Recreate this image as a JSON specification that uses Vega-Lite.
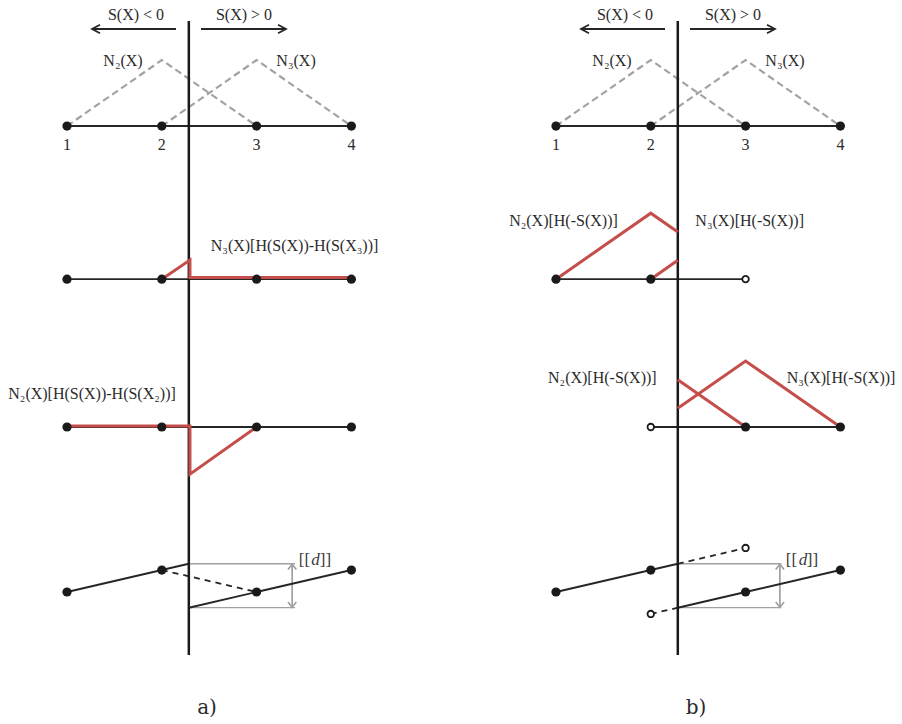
{
  "$schema": "https://vega.github.io/schema/vega-lite/v6.json",
  "width": 902,
  "height": 724,
  "padding": 0,
  "autosize": {"type": "fit", "contains": "padding"},
  "config": {"view": {"stroke": null}},
  "datasets": {
    "guides": [
      {"id": "g1", "o": 1, "x": 1, "y": 9.06}, {"id": "g1", "o": 2, "x": 2, "y": 10.06}, {"id": "g1", "o": 3, "x": 3, "y": 9.06},
      {"id": "g2", "o": 1, "x": 2, "y": 9.06}, {"id": "g2", "o": 2, "x": 3, "y": 10.06}, {"id": "g2", "o": 3, "x": 4, "y": 9.06},
      {"id": "g3", "o": 1, "x": 6.158, "y": 9.06}, {"id": "g3", "o": 2, "x": 7.158, "y": 10.06}, {"id": "g3", "o": 3, "x": 8.158, "y": 9.06},
      {"id": "g4", "o": 1, "x": 7.158, "y": 9.06}, {"id": "g4", "o": 2, "x": 8.158, "y": 10.06}, {"id": "g4", "o": 3, "x": 9.158, "y": 9.06}
    ],
    "black": [
      {"id": "k1", "o": 1, "x": 1, "y": 9.06}, {"id": "k1", "o": 2, "x": 4, "y": 9.06},
      {"id": "k2", "o": 1, "x": 1, "y": 6.74}, {"id": "k2", "o": 2, "x": 4, "y": 6.74},
      {"id": "k3", "o": 1, "x": 1, "y": 4.5}, {"id": "k3", "o": 2, "x": 4, "y": 4.5},
      {"id": "k4", "o": 1, "x": 1, "y": 2.0}, {"id": "k4", "o": 2, "x": 2, "y": 2.333}, {"id": "k4", "o": 3, "x": 2.285, "y": 2.428},
      {"id": "k5", "o": 1, "x": 2.285, "y": 1.762}, {"id": "k5", "o": 2, "x": 3, "y": 2.0}, {"id": "k5", "o": 3, "x": 4, "y": 2.333},
      {"id": "k6", "o": 1, "x": 1.264, "y": 10.53}, {"id": "k6", "o": 2, "x": 2.15, "y": 10.53},
      {"id": "k7", "o": 1, "x": 2.414, "y": 10.53}, {"id": "k7", "o": 2, "x": 3.31, "y": 10.53},
      {"id": "k8", "o": 1, "x": 6.158, "y": 9.06}, {"id": "k8", "o": 2, "x": 9.158, "y": 9.06},
      {"id": "k9", "o": 1, "x": 6.158, "y": 6.74}, {"id": "k9", "o": 2, "x": 8.158, "y": 6.74},
      {"id": "k10", "o": 1, "x": 7.158, "y": 4.5}, {"id": "k10", "o": 2, "x": 9.158, "y": 4.5},
      {"id": "k11", "o": 1, "x": 6.158, "y": 2.0}, {"id": "k11", "o": 2, "x": 7.158, "y": 2.333}, {"id": "k11", "o": 3, "x": 7.443, "y": 2.428},
      {"id": "k12", "o": 1, "x": 7.443, "y": 1.762}, {"id": "k12", "o": 2, "x": 8.158, "y": 2.0}, {"id": "k12", "o": 3, "x": 9.158, "y": 2.333},
      {"id": "k13", "o": 1, "x": 6.422, "y": 10.53}, {"id": "k13", "o": 2, "x": 7.308, "y": 10.53},
      {"id": "k14", "o": 1, "x": 7.572, "y": 10.53}, {"id": "k14", "o": 2, "x": 8.468, "y": 10.53}
    ],
    "vlines": [
      {"id": "v1", "o": 1, "x": 2.285, "y": 1.045}, {"id": "v1", "o": 2, "x": 2.285, "y": 10.652},
      {"id": "v2", "o": 1, "x": 7.443, "y": 1.045}, {"id": "v2", "o": 2, "x": 7.443, "y": 10.652}
    ],
    "blackDash": [
      {"id": "d1", "o": 1, "x": 2, "y": 2.333}, {"id": "d1", "o": 2, "x": 3, "y": 2.0},
      {"id": "d2", "o": 1, "x": 7.443, "y": 2.428}, {"id": "d2", "o": 2, "x": 8.158, "y": 2.667},
      {"id": "d3", "o": 1, "x": 7.158, "y": 1.667}, {"id": "d3", "o": 2, "x": 7.443, "y": 1.762}
    ],
    "red": [
      {"id": "r1", "o": 1, "x": 2, "y": 6.74}, {"id": "r1", "o": 2, "x": 2.297, "y": 7.03}, {"id": "r1", "o": 3, "x": 2.297, "y": 6.765}, {"id": "r1", "o": 4, "x": 4, "y": 6.765},
      {"id": "r2", "o": 1, "x": 1, "y": 4.515}, {"id": "r2", "o": 2, "x": 2.297, "y": 4.515}, {"id": "r2", "o": 3, "x": 2.297, "y": 3.785}, {"id": "r2", "o": 4, "x": 3, "y": 4.5},
      {"id": "r3", "o": 1, "x": 6.158, "y": 6.74}, {"id": "r3", "o": 2, "x": 7.158, "y": 7.74}, {"id": "r3", "o": 3, "x": 7.443, "y": 7.455},
      {"id": "r4", "o": 1, "x": 7.158, "y": 6.74}, {"id": "r4", "o": 2, "x": 7.443, "y": 7.025},
      {"id": "r5", "o": 1, "x": 7.443, "y": 5.215}, {"id": "r5", "o": 2, "x": 8.158, "y": 4.5},
      {"id": "r6", "o": 1, "x": 7.443, "y": 4.785}, {"id": "r6", "o": 2, "x": 8.158, "y": 5.5}, {"id": "r6", "o": 3, "x": 9.158, "y": 4.5}
    ],
    "grayThin": [
      {"id": "t1", "o": 1, "x": 2.285, "y": 2.428}, {"id": "t1", "o": 2, "x": 3.405, "y": 2.428},
      {"id": "t2", "o": 1, "x": 2.285, "y": 1.762}, {"id": "t2", "o": 2, "x": 3.405, "y": 1.762},
      {"id": "t4", "o": 1, "x": 7.443, "y": 2.428}, {"id": "t4", "o": 2, "x": 8.535, "y": 2.428},
      {"id": "t5", "o": 1, "x": 7.443, "y": 1.762}, {"id": "t5", "o": 2, "x": 8.535, "y": 1.762}
    ],
    "grayShaft": [
      {"id": "t3", "o": 1, "x": 3.375, "y": 2.418}, {"id": "t3", "o": 2, "x": 3.375, "y": 1.772},
      {"id": "t6", "o": 1, "x": 8.52, "y": 2.418}, {"id": "t6", "o": 2, "x": 8.52, "y": 1.772},
      {"id": "h1", "o": 1, "x": 3.331, "y": 2.342}, {"id": "h1", "o": 2, "x": 3.375, "y": 2.42}, {"id": "h1", "o": 3, "x": 3.419, "y": 2.342},
      {"id": "h2", "o": 1, "x": 3.331, "y": 1.848}, {"id": "h2", "o": 2, "x": 3.375, "y": 1.77}, {"id": "h2", "o": 3, "x": 3.419, "y": 1.848},
      {"id": "h3", "o": 1, "x": 8.476, "y": 2.342}, {"id": "h3", "o": 2, "x": 8.52, "y": 2.42}, {"id": "h3", "o": 3, "x": 8.564, "y": 2.342},
      {"id": "h4", "o": 1, "x": 8.476, "y": 1.848}, {"id": "h4", "o": 2, "x": 8.52, "y": 1.77}, {"id": "h4", "o": 3, "x": 8.564, "y": 1.848}
    ],
    "blackHeads": [
      {"dir": "left", "x": 1.264, "y": 10.53}, {"dir": "right", "x": 3.31, "y": 10.53},
      {"dir": "left", "x": 6.422, "y": 10.53}, {"dir": "right", "x": 8.468, "y": 10.53}
    ],
    "dots": [
      {"x": 1, "y": 9.06}, {"x": 2, "y": 9.06}, {"x": 3, "y": 9.06}, {"x": 4, "y": 9.06},
      {"x": 6.158, "y": 9.06}, {"x": 7.158, "y": 9.06}, {"x": 8.158, "y": 9.06}, {"x": 9.158, "y": 9.06},
      {"x": 1, "y": 6.74}, {"x": 2, "y": 6.74}, {"x": 3, "y": 6.74}, {"x": 4, "y": 6.74},
      {"x": 6.158, "y": 6.74}, {"x": 7.158, "y": 6.74},
      {"x": 1, "y": 4.5}, {"x": 2, "y": 4.5}, {"x": 3, "y": 4.5}, {"x": 4, "y": 4.5},
      {"x": 8.158, "y": 4.5}, {"x": 9.158, "y": 4.5},
      {"x": 1, "y": 2.0}, {"x": 2, "y": 2.333}, {"x": 3, "y": 2.0}, {"x": 4, "y": 2.333},
      {"x": 6.158, "y": 2.0}, {"x": 7.158, "y": 2.333}, {"x": 8.158, "y": 2.0}, {"x": 9.158, "y": 2.333}
    ],
    "open": [
      {"x": 8.158, "y": 6.74}, {"x": 7.158, "y": 4.5}, {"x": 8.158, "y": 2.667}, {"x": 7.158, "y": 1.667}
    ],
    "labels": [
      {"t": "S(X) < 0", "x": 1.728, "y": 10.742}, {"t": "S(X) > 0", "x": 2.867, "y": 10.742},
      {"t": "S(X) < 0", "x": 6.886, "y": 10.742}, {"t": "S(X) > 0", "x": 8.025, "y": 10.742},
      {"t": "N₂(X)", "x": 1.591, "y": 10.045}, {"t": "N₃(X)", "x": 3.416, "y": 10.045},
      {"t": "N₂(X)", "x": 6.749, "y": 10.045}, {"t": "N₃(X)", "x": 8.574, "y": 10.045},
      {"t": "1", "x": 1, "y": 8.773}, {"t": "2", "x": 2, "y": 8.773}, {"t": "3", "x": 3, "y": 8.773}, {"t": "4", "x": 4, "y": 8.773},
      {"t": "1", "x": 6.158, "y": 8.773}, {"t": "2", "x": 7.158, "y": 8.773}, {"t": "3", "x": 8.158, "y": 8.773}, {"t": "4", "x": 9.158, "y": 8.773},
      {"t": "N₃(X)[H(S(X))-H(S(X₃))]", "x": 3.4, "y": 7.242},
      {"t": "N₂(X)[H(S(X))-H(S(X₂))]", "x": 1.264, "y": 5.0},
      {"t": "N₂(X)[H(-S(X))]", "x": 6.237, "y": 7.626}, {"t": "N₃(X)[H(-S(X))]", "x": 8.201, "y": 7.626},
      {"t": "N₂(X)[H(-S(X))]", "x": 6.647, "y": 5.238}, {"t": "N₃(X)[H(-S(X))]", "x": 9.165, "y": 5.238}
    ],
    "brackets": [
      {"t": "[[", "x": 3.505, "y": 2.485}, {"t": "]]", "x": 3.727, "y": 2.485},
      {"t": "[[", "x": 8.642, "y": 2.485}, {"t": "]]", "x": 8.864, "y": 2.485}
    ],
    "italic": [
      {"t": "d", "x": 3.621, "y": 2.485}, {"t": "d", "x": 8.764, "y": 2.485}
    ],
    "panels": [
      {"t": "a)", "x": 2.477, "y": 0.242}, {"t": "b)", "x": 7.635, "y": 0.242}
    ]
  },
  "encoding": {
    "x": {"field": "x", "type": "quantitative", "scale": {"domain": [0.2932, 9.808], "nice": false, "zero": false}, "axis": null},
    "y": {"field": "y", "type": "quantitative", "scale": {"domain": [0, 10.9697], "nice": false, "zero": false}, "axis": null}
  },
  "layer": [
    {"data": {"name": "guides"}, "mark": {"type": "line", "color": "#a3a3a3", "strokeWidth": 2.2, "strokeDash": [7, 4]},
     "encoding": {"detail": {"field": "id"}, "order": {"field": "o"}}},
    {"data": {"name": "grayThin"}, "mark": {"type": "line", "color": "#a0a0a0", "strokeWidth": 1.3},
     "encoding": {"detail": {"field": "id"}, "order": {"field": "o"}}},
    {"data": {"name": "grayShaft"}, "mark": {"type": "line", "color": "#a0a0a0", "strokeWidth": 1.7},
     "encoding": {"detail": {"field": "id"}, "order": {"field": "o"}}},
    {"data": {"name": "black"}, "mark": {"type": "line", "color": "#262626", "strokeWidth": 1.9},
     "encoding": {"detail": {"field": "id"}, "order": {"field": "o"}}},
    {"data": {"name": "blackDash"}, "mark": {"type": "line", "color": "#262626", "strokeWidth": 1.8, "strokeDash": [6, 5]},
     "encoding": {"detail": {"field": "id"}, "order": {"field": "o"}}},
    {"data": {"name": "vlines"}, "mark": {"type": "line", "color": "#1a1a1a", "strokeWidth": 2.5},
     "encoding": {"detail": {"field": "id"}, "order": {"field": "o"}}},
    {"data": {"name": "red"}, "mark": {"type": "line", "color": "#c44e4b", "strokeWidth": 3, "strokeJoin": "miter"},
     "encoding": {"detail": {"field": "id"}, "order": {"field": "o"}}},
    {"data": {"name": "dots"}, "mark": {"type": "point", "shape": "circle", "filled": true, "color": "#1a1a1a", "opacity": 1, "size": 85}},
    {"data": {"name": "open"}, "mark": {"type": "point", "shape": "circle", "filled": false, "fill": "#ffffff", "fillOpacity": 1, "stroke": "#1a1a1a", "strokeWidth": 1.8, "opacity": 1, "size": 42}},
    {"data": {"name": "blackHeads"}, "mark": {"type": "point", "filled": false, "stroke": "#262626", "strokeWidth": 1.8, "opacity": 1, "size": 16},
     "encoding": {"shape": {"field": "dir", "type": "nominal", "legend": null, "scale": {"domain": ["left", "right"], "range": ["M4,-2.1L0,0L4,2.1", "M-4,-2.1L0,0L-4,2.1"]}}}},
    {"data": {"name": "labels"}, "mark": {"type": "text", "font": "Liberation Serif", "fontSize": 16, "color": "#2b2b2b", "align": "center", "baseline": "middle"},
     "encoding": {"text": {"field": "t"}}},
    {"data": {"name": "brackets"}, "mark": {"type": "text", "font": "Liberation Serif", "fontSize": 17, "color": "#3a3a3a", "align": "center", "baseline": "middle"},
     "encoding": {"text": {"field": "t"}}},
    {"data": {"name": "italic"}, "mark": {"type": "text", "font": "Liberation Serif", "fontStyle": "italic", "fontSize": 17, "color": "#3a3a3a", "align": "center", "baseline": "middle"},
     "encoding": {"text": {"field": "t"}}},
    {"data": {"name": "panels"}, "mark": {"type": "text", "font": "DejaVu Serif", "fontSize": 20, "color": "#2b2b2b", "align": "center", "baseline": "middle"},
     "encoding": {"text": {"field": "t"}}}
  ]
}
